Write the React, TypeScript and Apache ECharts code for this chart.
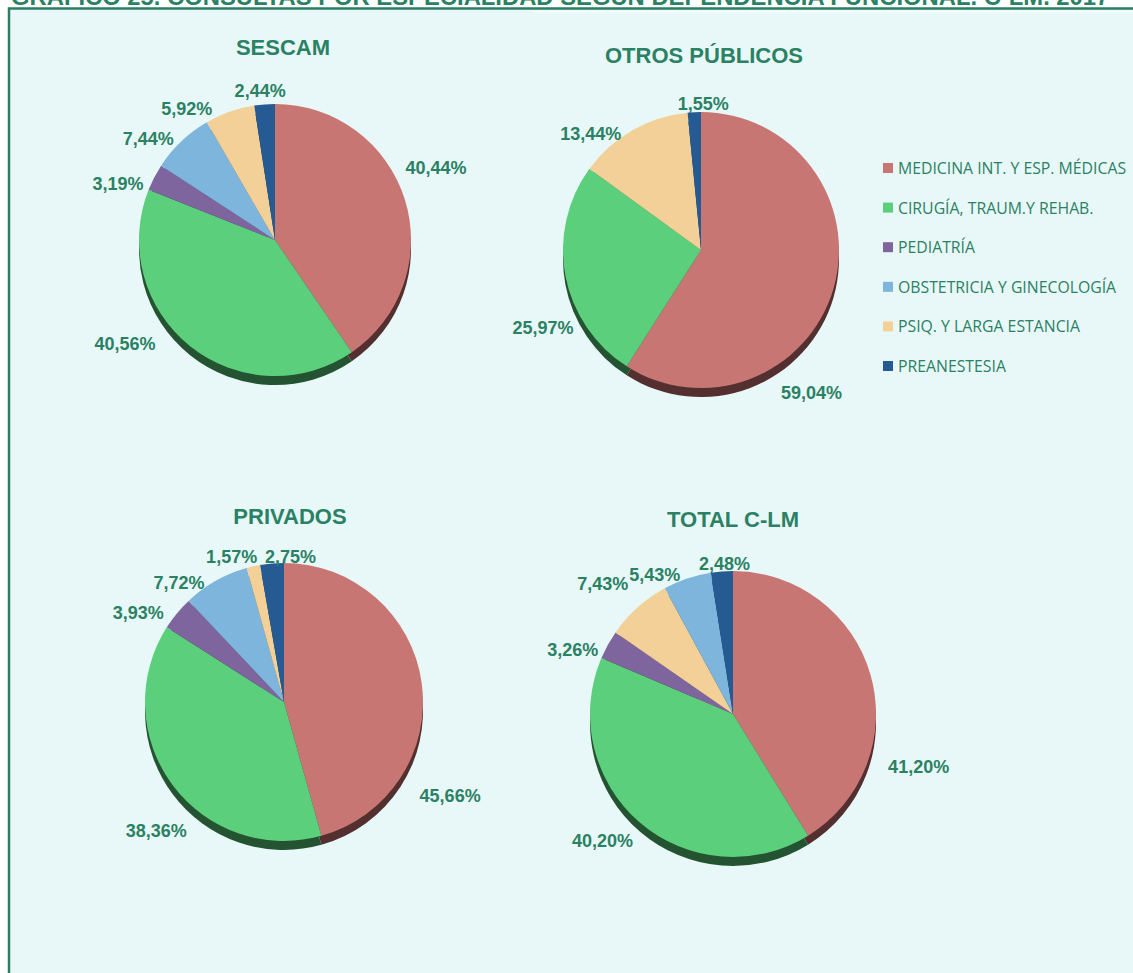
import React, { useEffect, useRef } from "react";
import * as echarts from "echarts";

const categories = [
  "MEDICINA INT. Y ESP. MÉDICAS",
  "CIRUGÍA, TRAUM.Y REHAB.",
  "PEDIATRÍA",
  "OBSTETRICIA Y GINECOLOGÍA",
  "PSIQ. Y LARGA ESTANCIA",
  "PREANESTESIA",
];
const colors = ["#C87673", "#5BCF7B", "#7F659E", "#7DB5DC", "#F2D098", "#265A93"];
const sideColors = ["#53302F", "#245332", "#3F3250", "#3E5A6E", "#79684C", "#132D4A"];

const sescam = [40.44, 40.56, 3.19, 7.44, 5.92, 2.44];
const otrosPublicos = [59.04, 25.97, 0, 0, 13.44, 1.55];
const privados = [45.66, 38.36, 3.93, 7.72, 1.57, 2.75];
// In the original TOTAL pie the beige slice (7,43%) comes before the light-blue one (5,43%)
const totalOrder = [0, 1, 2, 4, 3, 5];
const totalValues = [41.2, 40.2, 3.26, 7.43, 5.43, 2.48];

const mainTitle =
  "GRÁFICO 25. CONSULTAS POR ESPECIALIDAD SEGÚN DEPENDENCIA FUNCIONAL. C-LM. 2017";

// label nudges (Excel "best fit" placement), relative to ECharts' outside placement
const nudgeSescam = [[-16, -28], [-22, -12], [0, 12], [1, 6], [13, -3], [27, -1]];
const nudgeOtros = [[-69, 101], [20, 50], [0, 0], [0, 0], [-4, 14], [40, 4]];
const nudgePrivados = [[-19, 115], [29, 39], [1, 1], [24, -9], [50, -15], [50, 5]];
const nudgeTotal = [[1, 95], [6, 9], [1, 11], [0, -15], [25, -4], [34, 5]];

const pies = [
  { title: "SESCAM", order: [0, 1, 2, 3, 4, 5], values: sescam, nudge: nudgeSescam, cx: 275, cy: 240, r: 136, tx: 283, ty: 47 },
  { title: "OTROS PÚBLICOS", order: [0, 1, 2, 3, 4, 5], values: otrosPublicos, nudge: nudgeOtros, cx: 701, cy: 250, r: 138, tx: 704, ty: 55 },
  { title: "PRIVADOS", order: [0, 1, 2, 3, 4, 5], values: privados, nudge: nudgePrivados, cx: 284, cy: 702, r: 139, tx: 290, ty: 516 },
  { title: "TOTAL C-LM", order: totalOrder, values: totalValues, nudge: nudgeTotal, cx: 733, cy: 714, r: 143, tx: 733, ty: 519 },
];

const TEXT_GREEN = "#2B8163";

export default function App() {
  const ref = useRef<HTMLDivElement>(null);
  useEffect(() => {
    if (!ref.current) return;
    const chart = echarts.init(ref.current, null, { renderer: "svg" });
    const series: any[] = [];
    pies.forEach((p) => {
      // side (3D thickness) drawn underneath
      series.push({
        type: "pie",
        silent: true,
        z: 1,
        center: [p.cx, p.cy + 9],
        radius: [0, p.r],
        startAngle: 90,
        label: { show: false },
        labelLine: { show: false },
        emphasis: { disabled: true },
        data: p.values.map((v, i) => ({
          value: v,
          name: categories[p.order[i]] + " side",
          itemStyle: { color: sideColors[p.order[i]] },
        })),
      });
      series.push({
        type: "pie",
        name: p.title,
        z: 2,
        center: [p.cx, p.cy],
        radius: [0, p.r],
        startAngle: 90,
        avoidLabelOverlap: true,
        itemStyle: { borderWidth: 0 },
        label: {
          show: true,
          position: "outside",
          color: TEXT_GREEN,
          fontFamily: "Arial, 'Liberation Sans', sans-serif",
          fontWeight: "bold",
          fontSize: 18,
          formatter: (d: any) =>
            d.value > 0 ? d.value.toFixed(2).replace(".", ",") + "%" : "",
        },
        labelLine: { show: false, length: 12, length2: 0 },
        labelLayout: (params: any) => {
          const n = p.nudge[params.dataIndex] || [0, 0];
          return { dx: n[0], dy: n[1] };
        },
        emphasis: { disabled: true },
        data: p.values.map((v, i) => ({
          value: v,
          name: categories[p.order[i]],
          itemStyle: { color: colors[p.order[i]] },
        })),
      });
    });

    const graphic: any[] = [
      {
        type: "rect",
        z: -10,
        shape: { x: 9, y: 8.5, width: 1140, height: 980 },
        style: { fill: "#E8F8F8", stroke: "#2A7F62", lineWidth: 2.5 },
      },
      {
        type: "rect",
        z: -9,
        shape: { x: 533, y: 11, width: 610, height: 1.5 },
        style: { fill: "#F7FDFD" },
      },
      {
        type: "text",
        z: 10,
        x: 11,
        y: -16,
        style: {
          text: mainTitle,
          fill: TEXT_GREEN,
          font: "bold 23.8px Arial, 'Liberation Sans', sans-serif",
          verticalAlign: "top",
          align: "left",
        },
      },
      ...pies.map((p) => ({
        type: "text",
        z: 10,
        x: p.tx,
        y: p.ty,
        style: {
          text: p.title,
          fill: TEXT_GREEN,
          font: "bold 22px Arial, 'Liberation Sans', sans-serif",
          align: "center",
          verticalAlign: "middle",
        },
      })),
    ];

    chart.setOption({
      animation: false,
      backgroundColor: "#FFFFFF",
      legend: {
        orient: "vertical",
        left: 883,
        top: 160,
        padding: 0,
        itemWidth: 10,
        itemHeight: 10,
        itemGap: 23.6,
        icon: "rect",
        selectedMode: false,
        textStyle: {
          color: TEXT_GREEN,
          fontFamily: "'Open Sans', 'Noto Sans', sans-serif",
          fontSize: 15.8,
          padding: [0, 0, 0, 0],
        },
        data: categories.map((c, i) => ({ name: c, itemStyle: { color: colors[i] } })),
      },
      graphic,
      series,
    });
    return () => chart.dispose();
  }, []);
  return (
    <div
      ref={ref}
      style={{ position: "absolute", left: 0, top: 0, width: 1133, height: 973 }}
    />
  );
}
